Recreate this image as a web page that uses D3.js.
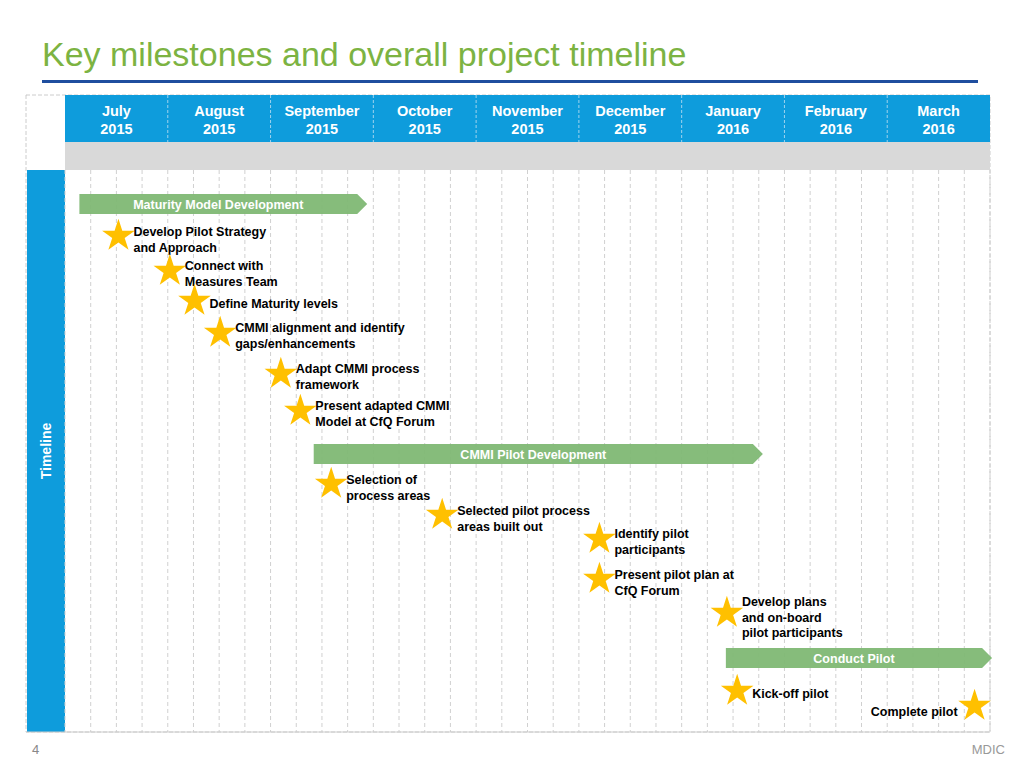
<!DOCTYPE html>
<html><head><meta charset="utf-8">
<script src="https://cdn.jsdelivr.net/npm/d3@7"></script>
<style>body{margin:0;background:#fff;font-family:Arial,"Liberation Sans",sans-serif}</style>
</head><body><svg id="c" width="1024" height="768"></svg>
<script>
const months = ["July","August","September","October","November","December","January","February","March"];
const years = ["2015","2015","2015","2015","2015","2015","2016","2016","2016"];
// phases: start/end in months from 1 July 2015
const phaseNames = ["Maturity Model Development","CMMI Pilot Development","Conduct Pilot"];
const phaseStart = [0.14, 2.42, 6.43];
const phaseEnd = [2.94, 6.79, 9.02];
const phaseRow = [204, 454, 658];
// milestones: time in months, row (y) in layout units
const msLabels = [["Develop Pilot Strategy","and Approach"],["Connect with","Measures Team"],["Define Maturity levels"],["CMMI alignment and identify","gaps/enhancements"],["Adapt CMMI process","framework"],["Present adapted CMMI","Model at CfQ Forum"],["Selection of","process areas"],["Selected pilot process","areas built out"],["Identify pilot","participants"],["Present pilot plan at","CfQ Forum"],["Develop plans","and on-board","pilot participants"],["Kick-off pilot"],["Complete pilot"]];
const msTime = [0.52,1.02,1.26,1.51,2.10,2.29,2.59,3.67,5.20,5.20,6.44,6.54,8.85];
const msRow = [235,270,300,332,373,410,483,514,538,578,612,690,705];
const msTextRow = [236,270,308,332,373,410,484,515,538,579,606,698,716];

const svg = d3.select("#c");
const x = d3.scaleLinear().domain([0,9]).range([65,990]);
const y = d3.scaleLinear().domain([0,768]).range([0,768]);

svg.append("text").attr("x",42).attr("y",66).attr("fill","#7cb342").attr("font-size",34).text("Key milestones and overall project timeline");
svg.append("rect").attr("x",42).attr("y",80).attr("width",936).attr("height",3).attr("fill","#1f4e9f");

svg.append("rect").attr("x",26).attr("y",95).attr("width",964).attr("height",637).attr("fill","none").attr("stroke","#ccc").attr("stroke-dasharray","4,2");
svg.append("rect").attr("x",x(0)).attr("y",95).attr("width",x(9)-x(0)).attr("height",47).attr("fill","#0e9cdc");
svg.append("rect").attr("x",x(0)).attr("y",142).attr("width",x(9)-x(0)).attr("height",28).attr("fill","#d9d9d9");
svg.append("rect").attr("x",27).attr("y",170).attr("width",38).attr("height",562).attr("fill","#0e9cdc");
svg.append("text").attr("transform","translate(51,451) rotate(-90)").attr("text-anchor","middle").attr("fill","#fff").attr("font-weight","bold").attr("font-size",14).text("Timeline");

const ticks = d3.range(0,36.01,1).map(t=>t/4);
svg.append("g").selectAll("line").data(ticks).join("line")
 .attr("x1",d=>x(d)).attr("x2",d=>x(d)).attr("y1",170).attr("y2",732)
 .attr("stroke","#d0d0d0").attr("stroke-dasharray","4,3");
svg.append("line").attr("x1",26).attr("x2",990).attr("y1",732).attr("y2",732).attr("stroke","#ccc");
svg.append("g").selectAll("line").data(d3.range(1,9)).join("line")
 .attr("x1",d=>x(d)).attr("x2",d=>x(d)).attr("y1",95).attr("y2",142)
 .attr("stroke","#9fd3ee").attr("stroke-dasharray","3,2");
months.forEach((m,i)=>{
 const t=svg.append("text").attr("text-anchor","middle").attr("fill","#fff").attr("font-weight","bold").attr("font-size",14.5);
 t.append("tspan").attr("x",x(i+0.5)).attr("y",116).text(m);
 t.append("tspan").attr("x",x(i+0.5)).attr("y",134).text(years[i]);
});

phaseNames.forEach((n,i)=>{
 const x0=x(phaseStart[i]), x1=x(phaseEnd[i]), yc=y(phaseRow[i]), h=10;
 svg.append("path").attr("d",`M${x0},${yc-h}L${x1-10},${yc-h}L${x1},${yc}L${x1-10},${yc+h}L${x0},${yc+h}Z`).attr("fill","#7fb874").attr("opacity",0.95);
 svg.append("text").attr("x",(x0+x1-10)/2).attr("y",yc+5).attr("text-anchor","middle").attr("fill","#fff").attr("font-weight","bold").attr("font-size",12.5).text(n);
});

const star = d3.symbol().type(d3.symbolStar).size(330);
msLabels.forEach((lab,i)=>{
 const cx=x(msTime[i]), cy=y(msRow[i]);
 svg.append("path").attr("d",star()).attr("transform",`translate(${cx},${cy+1})`).attr("fill","#ffc000");
 const last = i===msLabels.length-1;
 const t=svg.append("text").attr("fill","#000").attr("font-weight","bold").attr("font-size",12.5).attr("text-anchor",last?"end":"start");
 lab.forEach((l,j)=>t.append("tspan").attr("x",last?cx-17:cx+15).attr("y",y(msTextRow[i])+j*15.5).text(l));
});

svg.append("text").attr("x",32).attr("y",754).attr("fill","#888").attr("font-size",13).text("4");
svg.append("text").attr("x",1005).attr("y",754).attr("text-anchor","end").attr("fill","#999").attr("font-size",13).text("MDIC");
</script></body></html>
